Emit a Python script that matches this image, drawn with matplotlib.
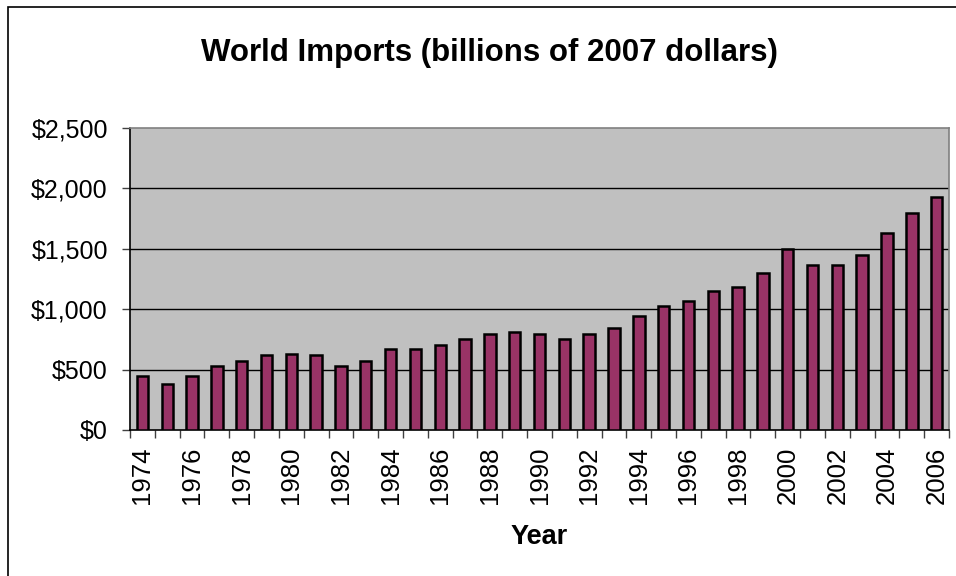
import numpy as np
import matplotlib.pyplot as plt
from matplotlib.patches import Rectangle
from matplotlib.ticker import FuncFormatter

plt.rcParams['font.family'] = ['Liberation Sans', 'DejaVu Sans']

years = list(range(1974, 2007))
imports = [450, 383, 450, 533, 567, 617, 633, 617, 533, 567, 667,
           667, 700, 750, 797, 814, 797, 750, 797, 847, 947, 1028,
           1064, 1150, 1181, 1297, 1497, 1367, 1367, 1450, 1631, 1797, 1931]
yticks = [0, 500, 1000, 1500, 2000, 2500]

fig = plt.figure(figsize=(9.56, 5.76), dpi=100)
ax = fig.add_axes([0.136, 0.2535, 0.8567, 0.5243])

x = np.arange(len(years))
ax.set_facecolor('#C0C0C0')
ax.bar(x, imports, width=0.46, color='#993366', edgecolor='black',
       linewidth=1.8, zorder=3)

# horizontal gridlines
for v in yticks[1:-1]:
    ax.axhline(v, color='black', lw=1.0, zorder=1)

ax.set_xlim(-0.5, len(years) - 0.5)
ax.set_ylim(0, 2500)
ax.set_yticks(yticks)
ax.yaxis.set_major_formatter(FuncFormatter(lambda v, p: f'${v:,.0f}'))
ax.tick_params(axis='y', length=6, width=1, color='#404040', pad=10,
               labelsize=18)

# labels on even years, tick marks between categories
even = [i for i, y in enumerate(years) if y % 2 == 0]
ax.set_xticks(even)
ax.set_xticklabels([str(years[i]) for i in even], rotation=90)
ax.tick_params(axis='x', which='major', length=0, pad=12, labelsize=18.5)
ax.set_xticks(np.arange(len(years) + 1) - 0.5, minor=True)
ax.tick_params(axis='x', which='minor', length=6, width=1, color='#404040')

for s in ax.spines.values():
    s.set_color('#808080')
    s.set_linewidth(1.2)
ax.spines['bottom'].set_color('black')
ax.spines['left'].set_color('black')

ax.set_xlabel('Year', fontsize=19.5, fontweight='bold', labelpad=14)
fig.text(0.512, 0.908, 'World Imports (billions of 2007 dollars)',
         ha='center', va='center', fontsize=22.5, fontweight='bold')

# outer chart frame
fig.patches.append(Rectangle((8 / 956, -0.1), 1.1, 1 - 7 / 576 + 0.1,
                             transform=fig.transFigure, fill=False,
                             edgecolor='black', lw=1.2))

fig.savefig('out.png', dpi=100)
